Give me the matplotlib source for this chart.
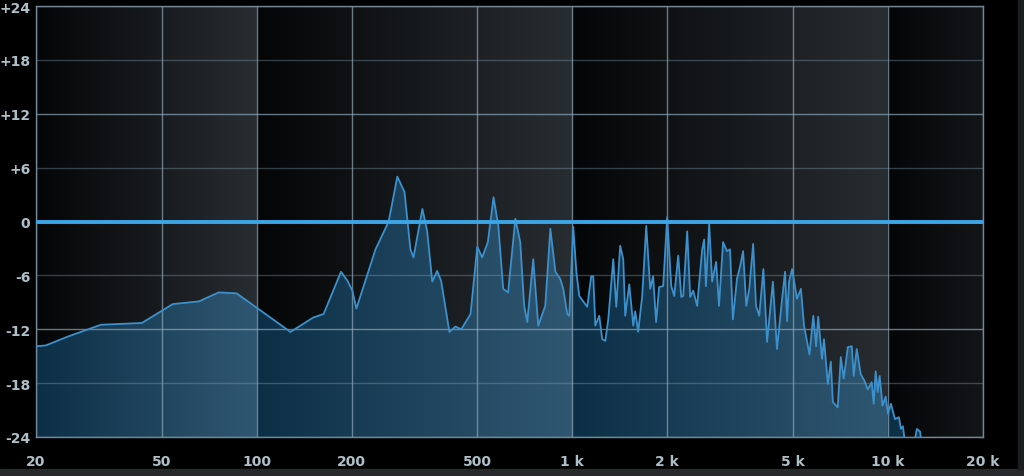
import numpy as np
import matplotlib
matplotlib.use('Agg')
import matplotlib.pyplot as plt
from matplotlib.patches import Rectangle
from matplotlib.ticker import NullLocator

# spectrum (Hz, dB)
freq = [20, 21.5, 25.3, 32.1, 43.3, 54.2, 65.6, 75.8, 86.4, 128, 151, 163, 185, 194,
        201, 207, 238, 262, 279, 294, 307, 314, 335, 347, 360, 373, 384, 408, 426,
        445, 476, 500, 518, 540, 563, 583, 604, 626, 660, 684, 704, 720, 752, 780,
        821, 852, 884, 916, 936, 964, 978, 1007, 1030, 1052, 1083, 1115, 1148, 1165,
        1183, 1217, 1244, 1272, 1300, 1348, 1378, 1418, 1450, 1471, 1515, 1560, 1582,
        1617, 1665, 1715, 1765, 1803, 1843, 1884, 1940, 1998, 2058, 2103, 2165, 2214,
        2246, 2312, 2363, 2415, 2486, 2579, 2617, 2650, 2714, 2773, 2855, 2916, 3003,
        3091, 3160, 3226, 3324, 3400, 3476, 3557, 3636, 3740, 3820, 3910, 4030, 4140,
        4320, 4450, 4620, 4720, 4790, 4860, 4970, 5150, 5300, 5420, 5640, 5800, 5920,
        6010, 6180, 6270, 6450, 6590, 6690, 6930, 7090, 7240, 7460, 7680, 7790, 7960,
        8200, 8440, 8630, 8880, 9010, 9140, 9280, 9410, 9610, 9830, 10000, 10220,
        10520, 10830, 10990, 11150, 11400, 11900, 12350, 12640, 12900, 20000]
level = [-13.9, -13.8, -12.8, -11.5, -11.3, -9.2, -8.9, -7.9, -8.0, -12.3, -10.7, -10.3,
         -5.6, -6.6, -7.7, -9.7, -3.1, 0.0, 5.0, 3.3, -3.1, -4.0, 1.4, -1.1, -6.7, -5.5,
         -6.6, -12.3, -11.7, -12.0, -10.3, -2.8, -4.0, -2.3, 2.7, -0.5, -7.5, -7.9, 0.3,
         -2.3, -9.4, -11.2, -4.2, -11.6, -9.4, -0.8, -5.6, -6.4, -7.5, -10.3, -10.5,
         -0.6, -5.6, -8.3, -8.9, -9.5, -6.1, -6.1, -11.6, -10.5, -13.1, -13.3, -10.9,
         -4.2, -9.5, -2.7, -4.2, -10.5, -7.0, -11.6, -10.0, -12.3, -8.3, -0.5, -7.5,
         -6.1, -11.2, -7.3, -7.2, 0.5, -7.2, -8.3, -3.8, -8.4, -8.3, -1.1, -8.4, -7.7,
         -9.4, -3.1, -2.0, -7.2, -0.3, -6.7, -4.5, -9.4, -2.3, -3.3, -3.1, -10.9, -6.4,
         -5.0, -3.3, -9.4, -7.5, -2.5, -9.4, -10.5, -5.3, -13.4, -6.7, -14.2, -8.6,
         -5.6, -11.1, -6.7, -5.3, -8.6, -7.5, -11.6, -14.8, -10.5, -13.9, -10.6, -15.3,
         -13.1, -18.1, -15.6, -20.1, -20.7, -15.1, -17.5, -14.0, -13.9, -17.2, -14.2,
         -17.0, -17.8, -18.7, -17.9, -20.3, -16.7, -19.0, -17.2, -20.5, -19.5, -21.4,
         -20.3, -22.0, -21.8, -23.1, -22.8, -25.5, -26.0, -23.1, -23.4, -26.0, -30.0]

xticks = [20, 50, 100, 200, 500, 1000, 2000, 5000, 10000, 20000]
xlabels = ['20', '50', '100', '200', '500', '1 k', '2 k', '5 k', '10 k', '20 k']
yticks = [24, 18, 12, 6, 0, -6, -12, -18, -24]
ylabels = ['+24', '+18', '+12', '+6', '0', '-6', '-12', '-18', '-24']

fig = plt.figure(figsize=(10.24, 4.77), dpi=100, facecolor='black')
fig.patches.append(Rectangle((0, 0), 1, 7 / 477, transform=fig.transFigure,
                             color='#28292b', zorder=0))
fig.patches.append(Rectangle((1018 / 1024, 7 / 477), 6 / 1024, 1, transform=fig.transFigure,
                             color='#1c1d1f', zorder=0))

ax = fig.add_axes([36 / 1024, 39 / 477, 947 / 1024, 431 / 477])
ax.set_facecolor('black')
ax.set_xscale('log')
ax.set_xlim(20, 20000)
ax.set_ylim(-24, 24)

# decade shading: dark at the start of each band, lighter towards its end
lf = np.linspace(np.log10(20), np.log10(20000), 1200)
shade = np.where(lf < 2, (lf - np.log10(20)) / (2 - np.log10(20)), lf - np.floor(lf))
shade = np.where(lf >= 4, (lf - 4) * 1.35, shade)
gray = np.array([36, 40, 44]) / 255
base = np.array([4, 5, 6]) / 255
bg = base + shade[:, None] * gray
bg_img = np.clip(bg[None, :, :], 0, 1)
ax.imshow(bg_img, extent=[0, 1, 0, 1], transform=ax.transAxes, aspect='auto',
          interpolation='bilinear', zorder=0)

# filled area under the spectrum, same shading tinted blue
tint = np.array([8, 42, 64]) / 255
fill_img = np.clip(bg_img + tint, 0, 1)
poly = ax.fill_between(freq, level, -40, facecolor='none', edgecolor='none')
fimg = ax.imshow(fill_img, extent=[0, 1, 0, 1], transform=ax.transAxes, aspect='auto',
                 interpolation='bilinear', zorder=1)
fimg.set_clip_path(poly.get_paths()[0], transform=poly.get_transform())

grid_c = (0.56, 0.66, 0.72)
for f in xticks:
    ax.axvline(f, color=grid_c, alpha=0.7, lw=1, zorder=2)
for v in yticks:
    ax.axhline(v, color=grid_c, alpha=0.7 if v % 12 == 0 else 0.35, lw=1, zorder=2)

ax.plot(freq, level, color='#3c90cb', lw=1.3, zorder=3)
ax.axhline(0, color='#3ba5e6', lw=2.8, zorder=4)

for s in ax.spines.values():
    s.set_color((0.45, 0.53, 0.58))
    s.set_linewidth(1)

ax.xaxis.set_minor_locator(NullLocator())
ax.set_xticks(xticks, xlabels)
ax.set_yticks(yticks, ylabels)
ax.tick_params(length=0, colors='#aebfc7', labelsize=10)
ax.tick_params(axis='x', pad=12)
ax.tick_params(axis='y', pad=4)
for t in ax.get_xticklabels() + ax.get_yticklabels():
    t.set_fontweight('bold')

fig.savefig('out.png', dpi=100, facecolor='black')
